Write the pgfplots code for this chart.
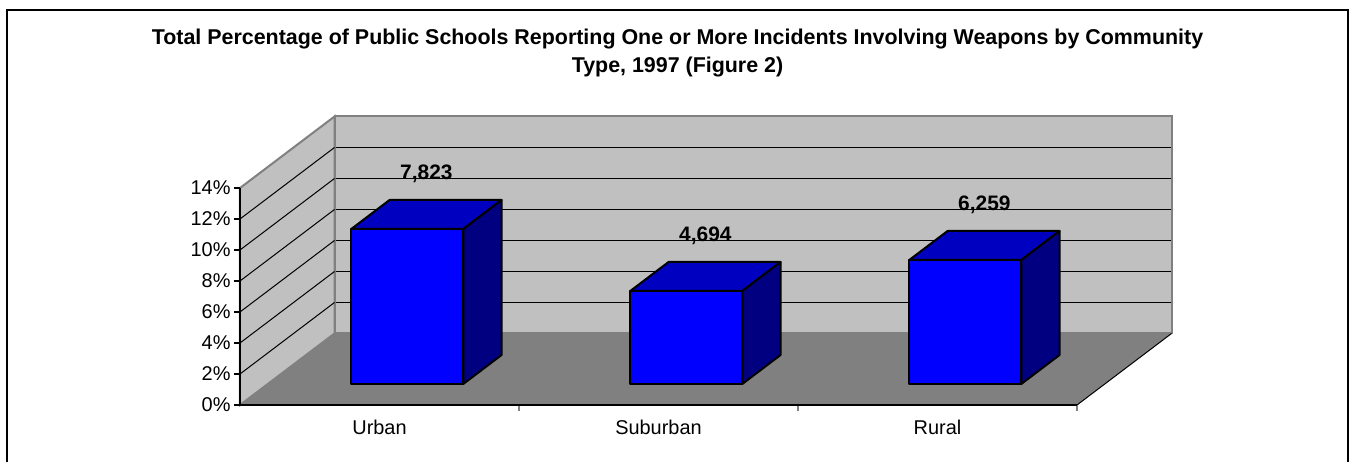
\documentclass[border=0pt]{standalone}
\usepackage{pgfplots}
\pgfplotsset{compat=1.18}
\usepackage{fontspec}
\setmainfont{Liberation Sans}
\definecolor{wallgray}{HTML}{C0C0C0}
\definecolor{floorgray}{HTML}{808080}
\definecolor{edgegray}{HTML}{808080}
\definecolor{barfront}{HTML}{0000FF}
\definecolor{bartop}{HTML}{0000C0}
\definecolor{barside}{HTML}{000080}
\newcommand{\tickfont}{\fontsize{20}{24}\selectfont}
\newcommand{\labfont}{\fontsize{21}{24}\selectfont\bfseries}
\newcommand{\titlefont}{\fontsize{21.5}{24}\selectfont\bfseries}
% #1 = category centre (x), #2 = value in percent, #3 = data label
\newcommand{\threedbar}[3]{%
  \pgfmathsetmacro{\xa}{#1+27.76-56}%
  \pgfmathsetmacro{\xb}{#1+27.76+56}%
  \pgfmathsetmacro{\xc}{\xa+38.3}%
  \pgfmathsetmacro{\xd}{\xb+38.3}%
  \pgfmathsetmacro{\yb}{1.355}%
  \pgfmathsetmacro{\yt}{1.355+#2}%
  \pgfmathsetmacro{\ybb}{\yb+1.871}%
  \pgfmathsetmacro{\ytb}{\yt+1.871}%
  \pgfmathsetmacro{\xm}{#1+46.91}%
  \pgfmathsetmacro{\yl}{#2+4.561}%
  \addplot[fill=barfront, draw=black, line width=2bp, line join=round] coordinates {(\xa,\yb) (\xb,\yb) (\xb,\yt) (\xa,\yt)} -- cycle;
  \addplot[fill=bartop, draw=black, line width=2bp, line join=round] coordinates {(\xa,\yt) (\xb,\yt) (\xd,\ytb) (\xc,\ytb)} -- cycle;
  \addplot[fill=barside, draw=black, line width=2bp, line join=round] coordinates {(\xb,\yb) (\xd,\ybb) (\xd,\ytb) (\xb,\yt)} -- cycle;
  \edef\tmp{\noexpand\node[anchor=base, font=\noexpand\labfont, inner sep=0pt] at (axis cs:\xm,\yl) {#3};}\tmp
}
\begin{document}
\begin{tikzpicture}
\begin{axis}[
  x=1bp, y=15.5bp,
  xmin=240, xmax=1077, ymin=0, ymax=14,
  clip=false,
  axis on top,
  axis lines*=left,
  axis line style={black, line width=1.5bp},
  ytick={0,2,...,14},
  yticklabels={0\%,2\%,4\%,6\%,8\%,10\%,12\%,14\%},
  xtick={519,798,1077},
  xticklabels={},
  tick align=outside,
  major tick length=6bp,
  ytick style={black, line width=1.2bp},
  xtick style={edgegray, line width=1.2bp},
  tick label style={font=\tickfont},
  /pgf/number format/assume math mode=true,
]
% walls
\addplot[fill=wallgray, draw=edgegray, line width=2bp] coordinates {(240,0) (240,14) (334.5,18.613) (334.5,4.613)} -- cycle;
\addplot[fill=wallgray, draw=edgegray, line width=2bp] coordinates {(334.5,4.613) (1171.5,4.613) (1171.5,18.613) (334.5,18.613)} -- cycle;
% gridlines on the left wall
\addplot[black, line width=1bp] coordinates {(240,2) (334.5,6.613)};
\addplot[black, line width=1bp] coordinates {(240,4) (334.5,8.613)};
\addplot[black, line width=1bp] coordinates {(240,6) (334.5,10.613)};
\addplot[black, line width=1bp] coordinates {(240,8) (334.5,12.613)};
\addplot[black, line width=1bp] coordinates {(240,10) (334.5,14.613)};
\addplot[black, line width=1bp] coordinates {(240,12) (334.5,16.613)};
% gridlines on the back wall
\addplot[black, line width=1bp] coordinates {(335.5,6.613) (1170.5,6.613)};
\addplot[black, line width=1bp] coordinates {(335.5,8.613) (1170.5,8.613)};
\addplot[black, line width=1bp] coordinates {(335.5,10.613) (1170.5,10.613)};
\addplot[black, line width=1bp] coordinates {(335.5,12.613) (1170.5,12.613)};
\addplot[black, line width=1bp] coordinates {(335.5,14.613) (1170.5,14.613)};
\addplot[black, line width=1bp] coordinates {(335.5,16.613) (1170.5,16.613)};
% floor
\addplot[fill=floorgray, draw=none] coordinates {(240,0) (1077,0) (1171.5,4.613) (334.5,4.613)} -- cycle;
\addplot[black, line width=1bp] coordinates {(1077,0) (1171.5,4.613)};
% bars
\threedbar{379.5}{10.0}{7,823}
\threedbar{658.5}{6.0}{4,694}
\threedbar{937.5}{8.0}{6,259}
% category labels
\node[anchor=base, font=\tickfont, inner sep=0pt] at (axis cs:379.5,-1.935) {Urban};
\node[anchor=base, font=\tickfont, inner sep=0pt] at (axis cs:658.5,-1.935) {Suburban};
\node[anchor=base, font=\tickfont, inner sep=0pt] at (axis cs:937.5,-1.935) {Rural};
% title
\node[anchor=base, font=\titlefont, inner sep=0pt] at (axis cs:677.5,23.226) {Total Percentage of Public Schools Reporting One or More Incidents Involving Weapons by Community};
\node[anchor=base, font=\titlefont, inner sep=0pt] at (axis cs:677.5,21.419) {Type, 1997 (Figure 2)};
% frame
\draw[black, line width=2bp] (axis cs:7,-4) -- (axis cs:7,25.484) -- (axis cs:1348,25.484) -- (axis cs:1348,-4);
\coordinate (bbl) at (axis cs:0,-3.677);
\coordinate (btr) at (axis cs:1351,26.129);
\end{axis}
\pgfresetboundingbox
\useasboundingbox (bbl) rectangle (btr);
\end{tikzpicture}
\end{document}
